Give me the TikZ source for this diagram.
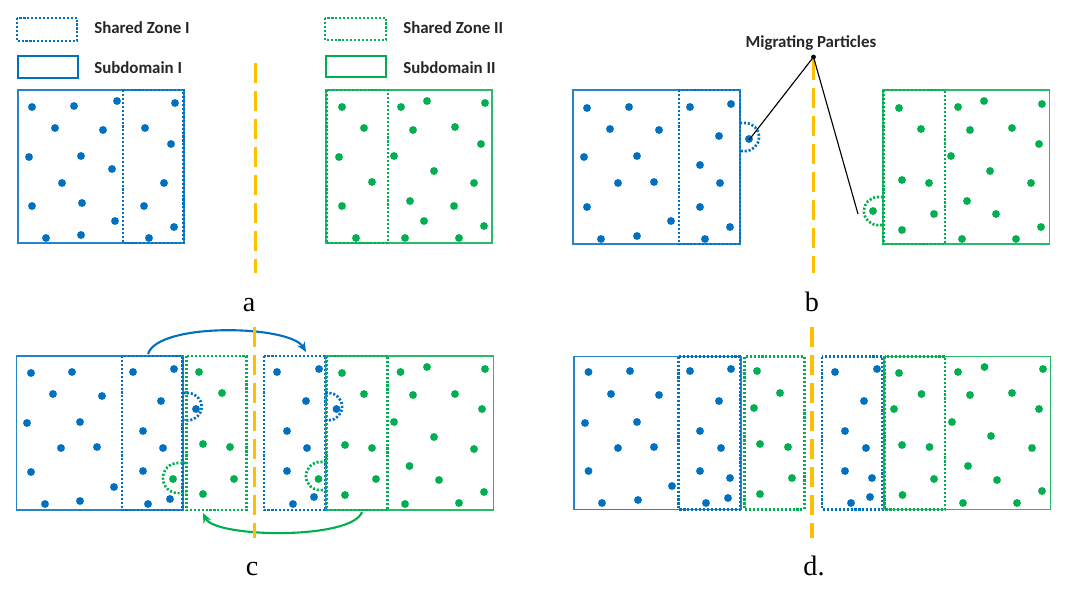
\documentclass[tikz,border=0pt]{standalone}
\usepackage{fontspec}
\setsansfont{Carlito}
\newfontfamily\labfont{Liberation Serif}
\usetikzlibrary{arrows.meta}
\definecolor{myblue}{RGB}{0,112,192}
\definecolor{mygreen}{RGB}{0,176,80}
\definecolor{myyellow}{RGB}{255,192,0}
\newcommand\blueparts[1]{\foreach \x/\y in {#1} \fill[myblue] (\x,\y) circle[radius=2.8pt];}
\newcommand\greenparts[1]{\foreach \x/\y in {#1} \fill[mygreen] (\x,\y) circle[radius=2.8pt];}
\tikzset{
  subI/.style={draw=myblue!85, line width=1.1pt},
  subII/.style={draw=mygreen!85, line width=1.1pt},
  shI/.style={draw=myblue, line width=2.1pt, dash pattern=on 1.5pt off 1.3pt},
  shII/.style={draw=mygreen, line width=2.1pt, dash pattern=on 1.5pt off 1.3pt},
  legsub/.style={line width=1.9pt},
  divider/.style={draw=myyellow, line width=2.2pt, dash pattern=on 14.5pt off 5.4pt},
  legtext/.style={font=\sffamily\bfseries\fontsize{12}{14}\selectfont, inner sep=0pt, text=black!85},
  lab/.style={font=\labfont\fontsize{20}{24}\selectfont, inner sep=0pt, anchor=base},
  migb/.style={draw=myblue, line width=1.9pt, dash pattern=on 1.5pt off 1.3pt},
  migg/.style={draw=mygreen, line width=1.9pt, dash pattern=on 1.5pt off 1.3pt},
  pointer/.style={draw=black, line width=0.8pt},
  barrow/.style={draw=myblue, line width=1.5pt, -{Stealth[length=7pt,width=6pt]}},
  garrow/.style={draw=mygreen, line width=1.5pt, -{Stealth[length=7pt,width=6pt]}}
}
\begin{document}
\begin{tikzpicture}[x=0.025cm,y=-0.025cm]
\useasboundingbox[fill=white] (0,0) rectangle (1080,594);

% ---------------- legend ----------------
\draw[shI] (17,18) rectangle (77,41);
\draw[draw=myblue, legsub] (18,56) rectangle (78,78);
\draw[shII] (325,18) rectangle (386,40);
\draw[draw=mygreen, legsub] (326,56) rectangle (386,77);
\node[legtext, anchor=base west] (tshI) at (94,33) {Shared Zone I};
\node[legtext, anchor=base west] (tsubI) at (94,73) {Subdomain I};
\node[legtext, anchor=base west] (tshII) at (403,33) {Shared Zone II};
\node[legtext, anchor=base west] (tsubII) at (403,73) {Subdomain II};

% ---------------- panel a ----------------
\draw[subI] (18,90) rectangle (184,243);
\draw[shI] (123,90) rectangle (183.5,243);
\draw[subII] (326,90) rectangle (492,243);
\draw[shII] (326.5,90) rectangle (388,243);
\blueparts{32/107,74/106,117/101,175/103,55/128,103/130,145/128,171/144,29/157,81/156,112/169,62/183,164/183,32/206,82/203,144/206,115/221,174/227,46/238,81/235,149/238}
\greenparts{342/107,401/107,427/101,485/103,364/128,413/130,455/127,481/144,339/157,394/156,434/171,372/182,474/183,342/206,410/201,454/206,424/221,484/226,356/238,405/238,459/238}
\draw[divider] (255.5,63) -- (255.5,273);
\node[lab] (la) at (249,311) {a};

% ---------------- panel b ----------------
\draw[subI] (573,90) rectangle (740,244);
\draw[shI] (679,90) rectangle (740,244);
\draw[subII] (883,90) rectangle (1049.5,244);
\draw[shII] (883.5,90) rectangle (945,244);
\blueparts{587/108,629/107,690/107,731/104,610/129,659/130,719/136,584/157,637/156,700/165,618/183,654/182,720/183,587/207,700/207,671/221,730/227,601/239,637/236,705/239,749/139}
\greenparts{899/108,958/107,984/101,1042/104,921/129,970/130,1012/128,1039/144,951/156,990/171,902/180,929/183,1031/183,967/201,934/214,996/214,902/230,1041/227,962/239,1016/239,873/211}
\draw[migb] (740,123) -- (745,123) arc[start angle=90, end angle=-90, radius=10pt] -- (740,151);
\draw[migg] (883,197) -- (878,197) arc[start angle=90, end angle=270, radius=10pt] -- (883,225);
\draw[divider] (813.5,60) -- (813.5,273);
\node[legtext, anchor=base] (mp) at (811,47) {Migrating Particles};
\coordinate (apex) at (813.5,57);
\coordinate (mpb) at (749,140);
\coordinate (mpg) at (858,214);
\draw[pointer] (apex) -- (mpb);
\draw[pointer] (apex) -- (mpg);
\fill[black] (apex) circle[radius=1.7pt];
\node[lab] (lb) at (812,311) {b};

% ---------------- panel c ----------------
\draw[subI] (16.6,356) rectangle (182.8,510);
\draw[shI] (122,356) rectangle (182.8,510);
\draw[shII] (186.3,356) rectangle (246.5,510);
\draw[shI] (264,356) rectangle (325.4,510);
\draw[subII] (325.4,356) rectangle (493.3,510);
\draw[shII] (326.5,356) rectangle (387.7,510);
\blueparts{31/373,72/372,133/372,174/369,53/394,102/396,161/401,27/423,80/422,143/431,61/448,97/447,163/448,31/472,143/471,114/487,45/504,80/501,148/504,170/499,196/409}
\greenparts{199/372,222/393,203/444,230/447,234/479,203/494,173/479}
\blueparts{277/372,319/369,306/401,287/431,307/448,287/471,293/504,314/497,336.5/409}
\greenparts{318.5/479,342/373,400.5/372,427/367,485/369,364/394,413/395,455/394,482/409,394/422,434/437,345/445,372/448,474/449,409.5/466,439/480,376/479,345/495,484/492,405/504,459/503}
\draw[migb] (183,393) -- (188,393) arc[start angle=90, end angle=-90, radius=9.7pt] -- (183,420);
\draw[migg] (186.3,463) -- (178,463) arc[start angle=90, end angle=270, radius=10.7pt] -- (186.3,493);
\draw[migb] (325.4,393) -- (328.5,393) arc[start angle=90, end angle=-90, radius=9.7pt] -- (325.4,420);
\draw[migg] (326.5,462) -- (320,462) arc[start angle=90, end angle=270, radius=10pt] -- (326.5,490);
\coordinate (bfrom) at (148,354);
\coordinate (bto) at (306,352);
\coordinate (gfrom) at (362,512);
\coordinate (gto) at (203,513);
\draw[barrow] (bfrom) .. controls (158,322) and (290,325) .. (bto);
\draw[garrow] (gfrom) .. controls (352,540) and (215,538) .. (gto);
\draw[divider] (254.5,327) -- (254.5,538);
\node[lab] (lc) at (252,575) {c};

% ---------------- panel d ----------------
\draw[subI] (574,356.7) rectangle (740.8,509.3);
\draw[shI] (678.5,356.7) rectangle (740,509.3);
\draw[shII] (744.3,356.7) rectangle (804.1,509.3);
\draw[shI] (822,356.7) rectangle (882.7,509.3);
\draw[subII] (883.8,356.7) rectangle (1050.6,509.3);
\draw[shII] (884.5,356.7) rectangle (945,509.3);
\blueparts{588.5/372,630/371,690/371,731/369,611/394,659/395,719/401,585/423,637/422,700/431,618/448,654/447,721/448,588.5/471,700/471,730/478,672/486,602/503,638/500,706/503,728/498}
\greenparts{757/371,780/393,754/408,760/444,788/447,792/478,760/494}
\blueparts{835/372,877/369,864/401,845/431,866/448,845/471,872/478,851/503,870/497}
\greenparts{899/373,958/372,984.5/367,1043/369,921.5/394,970/395,1012/393,894/409,1039/409,952/422,991/436,902/445,929.5/447,1032/448,968/466,934/479,997/480,902.5/495,1042/491,963/503,1017/503}
\draw[divider] (812,327) -- (812,538);
\node[lab] (ld) at (814,575) {d.};
\end{tikzpicture}
\end{document}
